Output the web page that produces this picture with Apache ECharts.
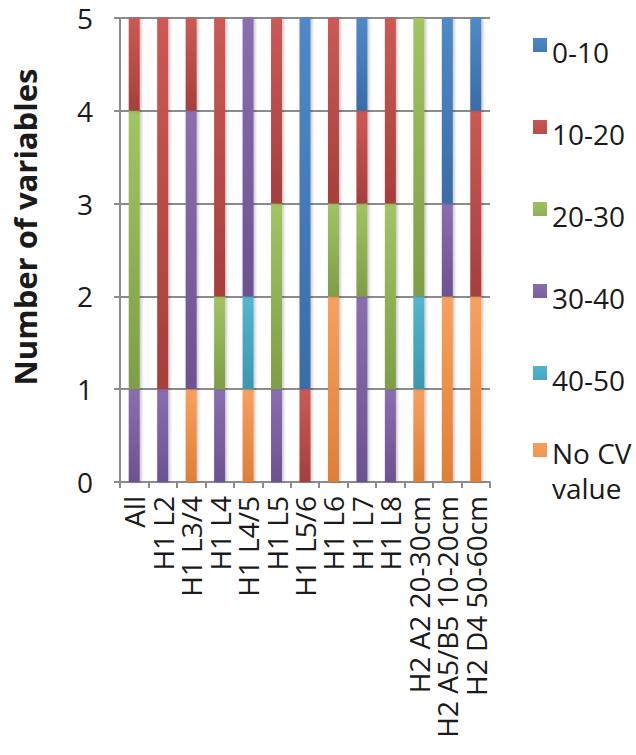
<!DOCTYPE html>
<html><head><meta charset="utf-8">
<script src="https://cdn.jsdelivr.net/npm/echarts@6/dist/echarts.min.js"></script>
<style>html,body{margin:0;padding:0;background:#fff}#c{width:636px;height:755px}</style>
</head><body><div id="c"></div>
<script>
const categories = ['All','H1 L2','H1 L3/4','H1 L4','H1 L4/5','H1 L5','H1 L5/6','H1 L6','H1 L7','H1 L8','H2 A2 20-30cm','H2 A5/B5 10-20cm','H2 D4 50-60cm'];
const noCV   = [0,0,1,0,1,0,0,2,0,0,1,2,2];
const cv4050 = [0,0,0,0,1,0,0,0,0,0,1,0,0];
const cv3040 = [1,1,3,1,3,1,0,0,2,1,0,1,0];
const cv2030 = [3,0,0,1,0,2,0,1,1,2,3,0,0];
const cv1020 = [1,4,1,3,0,2,1,2,1,2,0,0,2];
const cv0010 = [0,0,0,0,0,0,4,0,1,0,0,2,1];
const yTicks = [0,1,2,3,4,5];

const FONT = '"Open Sans", "Noto Sans", sans-serif';
function grad(top, bottom){
  return new echarts.graphic.LinearGradient(0,0,0,1,[{offset:0,color:top},{offset:1,color:bottom}]);
}
const defs = [
  ['No CV value', noCV,   '#f79646', '#f7a160', '#dd7f38'],
  ['40-50',       cv4050, '#4bacc6', '#55b6cf', '#3c97ad'],
  ['30-40',       cv3040, '#8064a2', '#8a6fae', '#6b5290'],
  ['20-30',       cv2030, '#9bbb59', '#a2c464', '#7f9d47'],
  ['10-20',       cv1020, '#c0504d', '#cb5a56', '#a53f3d'],
  ['0-10',        cv0010, '#4f81bd', '#5089c8', '#3a6ca6']
];
const series = defs.map(d => ({
  name: d[0], type: 'bar', stack: 'total', data: d[1], barWidth: 11,
  color: d[2],
  itemStyle: {color: grad(d[3], d[4]), shadowColor:'rgba(0,0,0,0.25)', shadowBlur:3, shadowOffsetX:1.5, shadowOffsetY:0},
  emphasis: {disabled: true}
}));

const chart = echarts.init(document.getElementById('c'), null, {renderer:'svg'});
chart.setOption({
  animation: false,
  backgroundColor: '#fff',
  textStyle: {fontFamily: FONT},
  grid: {left: 120, right: 146, top: 18, bottom: 273},
  legend: [{
    orient: 'vertical', left: 528, top: 30, itemWidth: 14, itemHeight: 33, itemGap: 49,
    icon: 'path://M0,3h14v14h-14z M7,0h0.01v0.01z M7,33h0.01v0.01z',
    data: ['0-10','10-20','20-30','30-40','40-50'],
    textStyle: {fontSize: 28, color: '#1a1a1a', fontFamily: FONT, lineHeight: 33}
  }, {
    orient: 'vertical', left: 528, top: 430, itemWidth: 14, itemHeight: 70,
    icon: 'path://M0,8h14v14h-14z M7,0h0.01v0.01z M7,70h0.01v0.01z',
    data: ['No CV value'],
    formatter: () => 'No CV\nvalue',
    textStyle: {fontSize: 28, color: '#1a1a1a', fontFamily: FONT, lineHeight: 35}
  }],
  xAxis: {
    type: 'category', data: categories,
    axisLine: {lineStyle: {color: '#8c8c8c', width: 2}},
    axisTick: {show: true, length: 6, lineStyle: {color: '#8c8c8c', width: 2}},
    axisLabel: {rotate: 90, fontSize: 28, color: '#1a1a1a', margin: 14, interval: 0, fontFamily: FONT}
  },
  yAxis: {
    type: 'value', min: yTicks[0], max: yTicks[yTicks.length-1], interval: 1,
    axisLine: {show: true, lineStyle: {color: '#8c8c8c', width: 2}},
    axisTick: {show: true, length: 6, lineStyle: {color: '#8c8c8c', width: 2}},
    splitLine: {lineStyle: {color: '#8c8c8c', width: 2}},
    axisLabel: {fontSize: 28, color: '#1a1a1a', margin: 27, fontFamily: FONT}
  },
  graphic: [{
    type: 'text', x: 25, y: 227, rotation: Math.PI/2,
    style: {text: 'Number of variables', fontSize: 31, fontWeight: 'bold', fill: '#1a1a1a',
      fontFamily: FONT, textAlign: 'center', textVerticalAlign: 'middle'}
  }],
  series: series
});
</script></body></html>
